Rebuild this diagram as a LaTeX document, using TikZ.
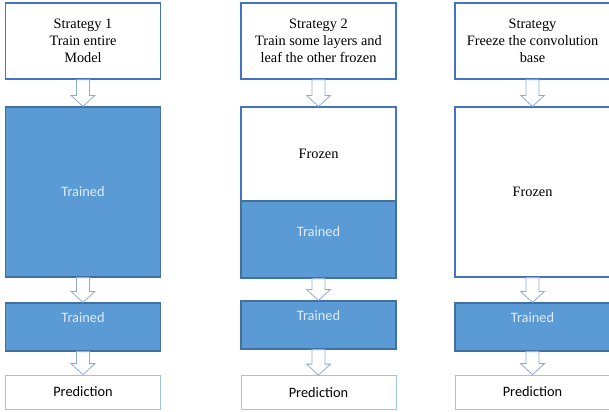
\documentclass[tikz,border=0pt]{standalone}
\usepackage{fontspec}
\setmainfont{Liberation Serif}
\newfontfamily\calibri{Carlito}
\usetikzlibrary{calc}
\definecolor{tlblue}{RGB}{68,114,196}
\definecolor{trfill}{RGB}{91,155,213}
\definecolor{trline}{RGB}{65,113,156}
\definecolor{trtext}{RGB}{222,235,247}
\definecolor{prline}{RGB}{157,195,230}
\definecolor{arline}{RGB}{143,170,220}

\tikzset{
  strat/.style={draw=tlblue, line width=1.6bp, fill=white, minimum width=155bp,
    minimum height=76bp, align=center, font=\fontsize{14.4}{17}\selectfont},
  trained/.style={draw=trline, line width=1.2bp, fill=trfill, minimum width=155bp,
    text=trtext, font=\calibri\fontsize{14.4}{17}\selectfont},
  frozen/.style={draw=tlblue, line width=1.2bp, fill=white, minimum width=155bp,
    font=\fontsize{14.4}{17}\selectfont},
  pred/.style={draw=prline, line width=0.8bp, fill=white, minimum width=155bp,
    minimum height=34bp, font=\calibri\fontsize{14.4}{17}\selectfont},
  barrow/.style={draw=arline, line width=0.8bp, fill=white}
}
\newcommand{\blockarr}[2]{%
  \draw[barrow] let \p1=(#1.south), \p2=(#2.north) in
    (\x1-6.5bp,\y1) -- (\x1-6.5bp,\y2+11bp) -- (\x1-12bp,\y2+11bp) -- (\x1,\y2)
    -- (\x1+12bp,\y2+11bp) -- (\x1+6.5bp,\y2+11bp) -- (\x1+6.5bp,\y1) -- cycle;}

\begin{document}
\begin{tikzpicture}[x=1bp,y=-1bp]
\useasboundingbox (0,0) rectangle (609,411);
% Strategy 1
\node[strat] (s1) at (83,41) {Strategy 1\\Train entire\\Model};
\node[trained, minimum height=170bp] (t1) at (83,192) {Trained};
\node[trained, minimum height=48bp, text depth=18bp] (m1) at (83,327) {Trained};
\node[pred] (p1) at (83,392) {Prediction};
% Strategy 2
\node[strat] (s2) at (318.5,41) {Strategy 2\\Train some layers and\\leaf the other frozen};
\node[frozen, minimum height=94bp] (f2) at (318.5,154) {Frozen};
\node[trained, minimum height=77bp, text depth=16bp] (t2) at (318.5,239.5) {Trained};
\node[trained, minimum height=48bp, text depth=18bp] (m2) at (318.5,325) {Trained};
\node[pred] (p2) at (318.5,392.5) {Prediction};
% Strategy 3
\node[strat] (s3) at (532.5,41) {Strategy\\Freeze the convolution\\base};
\node[frozen, minimum height=170bp] (f3) at (532.5,192) {Frozen};
\node[trained, minimum height=48bp, text depth=18bp] (m3) at (532.5,327) {Trained};
\node[pred] (p3) at (532.5,392) {Prediction};
% arrows
\blockarr{s1}{t1}
\blockarr{t1}{m1}
\blockarr{m1}{p1}
\blockarr{s2}{f2}
\blockarr{t2}{m2}
\blockarr{m2}{p2}
\blockarr{s3}{f3}
\blockarr{f3}{m3}
\blockarr{m3}{p3}
\end{tikzpicture}
\end{document}
